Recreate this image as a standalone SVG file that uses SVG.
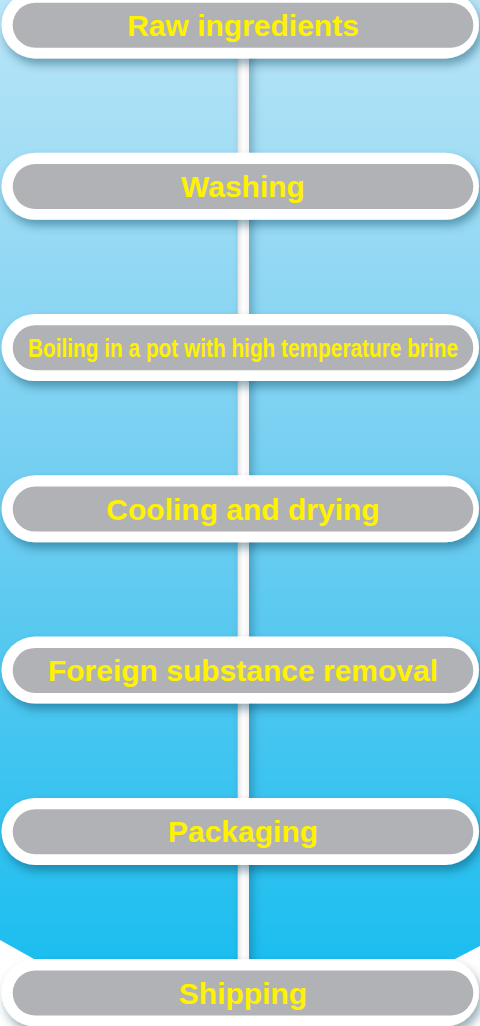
<svg xmlns="http://www.w3.org/2000/svg" width="480" height="1026" viewBox="0 0 480 1026">
  <defs>
    <linearGradient id="bg" x1="0" y1="0" x2="0" y2="1026" gradientUnits="userSpaceOnUse">
      <stop offset="0" stop-color="#b9e5f7"/>
      <stop offset="0.5" stop-color="#6ecdf1"/>
      <stop offset="1" stop-color="#0fbcef"/>
    </linearGradient>
    <linearGradient id="line" x1="0" y1="0" x2="1" y2="0">
      <stop offset="0" stop-color="#e2e2e2"/>
      <stop offset="0.45" stop-color="#ffffff"/>
      <stop offset="1" stop-color="#f4f4f4"/>
    </linearGradient>
    <filter id="sh" x="-10%" y="-40%" width="120%" height="190%">
      <feDropShadow dx="3" dy="6" stdDeviation="5" flood-color="#0a3a55" flood-opacity="0.42"/>
    </filter>
    <filter id="lsh" x="-200%" y="-5%" width="500%" height="110%">
      <feDropShadow dx="4" dy="0" stdDeviation="4" flood-color="#0a3a55" flood-opacity="0.32"/>
    </filter>
    <style>
      .outer { fill: #ffffff; filter: url(#sh); }
      .inner { fill: #b1b2b5; }
      .lbl { font-family: "Liberation Sans", Arial, sans-serif; font-weight: bold; font-size: 30px; fill: #fff200; text-anchor: middle; }
    </style>
  </defs>

  <rect x="0" y="0" width="480" height="1026" fill="#ffffff"/>
  <polygon points="0,0 480,0 480,946 455,959 34,959 0,940" fill="url(#bg)"/>

  <g id="connectors">
    <rect x="237.7" y="40" width="11.3" height="940" fill="url(#line)" filter="url(#lsh)"/>
  </g>

  <g id="n1">
    <rect class="outer" x="1.5" y="-8.6" width="477.5" height="67" rx="33.5"/>
    <rect class="inner" x="12.7" y="2.7" width="460.6" height="45" rx="22.5"/>
    <text class="lbl" x="243" y="35.7">Raw ingredients</text>
  </g>
  <g id="n2">
    <rect class="outer" x="1.5" y="152.7" width="477.5" height="67" rx="33.5"/>
    <rect class="inner" x="12.7" y="164" width="460.6" height="45" rx="22.5"/>
    <text class="lbl" x="243" y="197">Washing</text>
  </g>
  <g id="n3">
    <rect class="outer" x="1.5" y="314" width="477.5" height="67" rx="33.5"/>
    <rect class="inner" x="12.7" y="325.3" width="460.6" height="45" rx="22.5"/>
    <text class="lbl" x="243" y="356.7" style="font-size:26px" textLength="430" lengthAdjust="spacingAndGlyphs">Boiling in a pot with high temperature brine</text>
  </g>
  <g id="n4">
    <rect class="outer" x="1.5" y="475.3" width="477.5" height="67" rx="33.5"/>
    <rect class="inner" x="12.7" y="486.6" width="460.6" height="45" rx="22.5"/>
    <text class="lbl" x="243" y="519.6">Cooling and drying</text>
  </g>
  <g id="n5">
    <rect class="outer" x="1.5" y="636.6" width="477.5" height="67" rx="33.5"/>
    <rect class="inner" x="12.7" y="647.9" width="460.6" height="45" rx="22.5"/>
    <text class="lbl" x="243" y="680.9">Foreign substance removal</text>
  </g>
  <g id="n6">
    <rect class="outer" x="1.5" y="797.9" width="477.5" height="67" rx="33.5"/>
    <rect class="inner" x="12.7" y="809.2" width="460.6" height="45" rx="22.5"/>
    <text class="lbl" x="243" y="842.2">Packaging</text>
  </g>
  <g id="n7">
    <rect class="outer" x="1.5" y="959.2" width="477.5" height="67" rx="33.5"/>
    <rect class="inner" x="12.7" y="970.5" width="460.6" height="45" rx="22.5"/>
    <text class="lbl" x="243" y="1003.5">Shipping</text>
  </g>
</svg>
